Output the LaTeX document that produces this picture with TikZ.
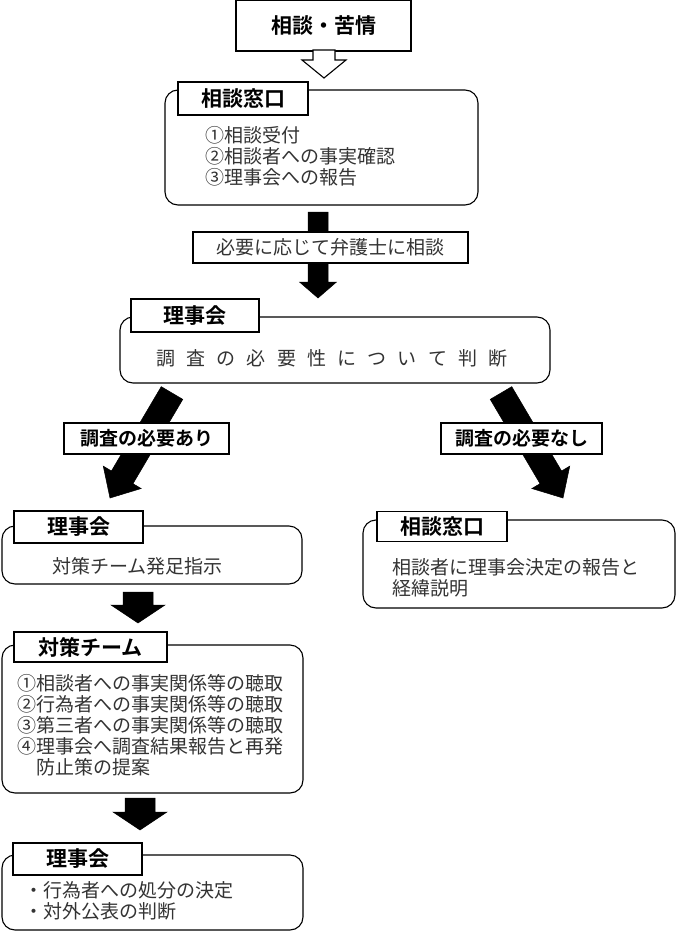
\documentclass[tikz,border=0pt]{standalone}
\usepackage{fontspec}
\setmainfont{Noto Sans CJK JP}[BoldFont={Noto Sans CJK JP Bold}]
\usetikzlibrary{calc}
\newcommand{\blkarrow}[6]{%
  \path ($(#2)!#5!(#1)$) coordinate (hb);
  \filldraw[#6] ($(#1)!#3!90:(#2)$) -- ($(hb)!#3!-90:(#1)$) -- ($(hb)!#4!-90:(#1)$) -- (#2) -- ($(hb)!#4!90:(#1)$) -- ($(hb)!#3!90:(#1)$) -- ($(#1)!#3!-90:(#2)$) -- cycle;
}
\newcommand{\cnum}[1]{\makebox[19pt][c]{#1}}
\tikzset{
  rbox/.style={draw, line width=1.1pt, rounded corners=13pt, fill=white, inner sep=0pt},
  lbox/.style={draw, line width=1.1pt, fill=white, inner sep=0pt, font=\fontsize{21}{21}\selectfont\bfseries},
  abox/.style={draw, line width=1.1pt, fill=white, inner sep=0pt},
  body/.style={inner sep=0pt, align=left, font=\fontsize{19}{21}\selectfont, text=black!80},
  blackarrow/.style={fill=black, draw=black, line width=0.5pt},
  hollowarrow/.style={fill=white, draw=black, line width=1.1pt},
}
\begin{document}
\begin{tikzpicture}[x=1pt,y=-1pt]
\useasboundingbox (0,0) rectangle (677,934);
% top box
\node[lbox, minimum width=175pt, minimum height=51pt] (top) at (323.5,25.5) {相談・苦情};
\coordinate (a0s) at (324,50);
\coordinate (a0t) at (324,78);
\blkarrow{a0s}{a0t}{11pt}{22pt}{18pt}{hollowarrow}
% box 1
\node[rbox, minimum width=313pt, minimum height=115pt] (b1) at (321.5,147.5) {};
\node[lbox, minimum width=130pt, minimum height=33pt] (l1) at (243,98.5) {相談窓口};
\node[body, anchor=west] (t1) at (205,156) {\cnum{①}相談受付\\\cnum{②}相談者への事実確認\\\cnum{③}理事会への報告};
% arrow 1
\coordinate (a1s) at (318,212);
\coordinate (a1t) at (318,298);
\blkarrow{a1s}{a1t}{10pt}{18.5pt}{16pt}{blackarrow}
\node[abox, minimum width=275pt, minimum height=31pt, font=\fontsize{19}{21}\selectfont, text=black!80] (law) at (330.5,247.5) {必要に応じて弁護士に相談};
% box 2
\node[rbox, minimum width=430pt, minimum height=66pt] (b2) at (335,350) {};
\node[lbox, minimum width=128pt, minimum height=33pt] (l2) at (195,315.5) {理事会};
\node[body] (t2) at (332,358) {調\hspace{11.2pt}査\hspace{11.2pt}の\hspace{11.2pt}必\hspace{11.2pt}要\hspace{11.2pt}性\hspace{11.2pt}に\hspace{11.2pt}つ\hspace{11.2pt}い\hspace{11.2pt}て\hspace{11.2pt}判\hspace{11.2pt}断};
% diagonal arrows
\coordinate (aLs) at (172,393);
\coordinate (aLt) at (110,498);
\blkarrow{aLs}{aLt}{12.5pt}{22pt}{24pt}{blackarrow}
\coordinate (aRs) at (501,393);
\coordinate (aRt) at (563,498);
\blkarrow{aRs}{aRt}{12.5pt}{22pt}{24pt}{blackarrow}
\node[lbox, minimum width=165pt, minimum height=31pt, font=\fontsize{19}{21}\selectfont\bfseries] (yes) at (146.5,438.5) {調査の必要あり};
\node[lbox, minimum width=161pt, minimum height=31pt, font=\fontsize{19}{21}\selectfont\bfseries] (no) at (521.5,438.5) {調査の必要なし};
% box 3
\node[rbox, minimum width=300pt, minimum height=58pt] (b3) at (152,555) {};
\node[lbox, minimum width=129pt, minimum height=32pt] (l3) at (78.5,527) {理事会};
\node[body, anchor=west] (t3) at (52,566) {対策チーム発足指示};
% right box
\node[rbox, minimum width=312pt, minimum height=88pt] (bR) at (519,564) {};
\node[lbox, minimum width=130pt, minimum height=30pt] (lR) at (442,526.5) {相談窓口};
\node[body, anchor=west] (tR) at (392,578) {相談者に理事会決定の報告と\\経緯説明};
% arrow 3
\coordinate (a3s) at (138,592);
\coordinate (a3t) at (138,623);
\blkarrow{a3s}{a3t}{15pt}{27pt}{18pt}{blackarrow}
% box 4
\node[rbox, minimum width=301pt, minimum height=148pt] (b4) at (152.5,719) {};
\node[lbox, minimum width=153pt, minimum height=30pt] (l4) at (90.5,647) {対策チーム};
\node[body, anchor=west] (t4) at (17,725) {\cnum{①}相談者への事実関係等の聴取\\\cnum{②}行為者への事実関係等の聴取\\\cnum{③}第三者への事実関係等の聴取\\\cnum{④}理事会へ調査結果報告と再発\\\hspace{19pt}防止策の提案};
% arrow 4
\coordinate (a4s) at (140,798);
\coordinate (a4t) at (140,830);
\blkarrow{a4s}{a4t}{15pt}{27pt}{18pt}{blackarrow}
% box 5
\node[rbox, minimum width=301pt, minimum height=75pt] (b5) at (152.5,892.5) {};
\node[lbox, minimum width=129pt, minimum height=32pt] (l5) at (77.5,859) {理事会};
\node[body, anchor=west] (t5) at (24,901) {・行為者への処分の決定\\・対外公表の判断};
\end{tikzpicture}
\end{document}
